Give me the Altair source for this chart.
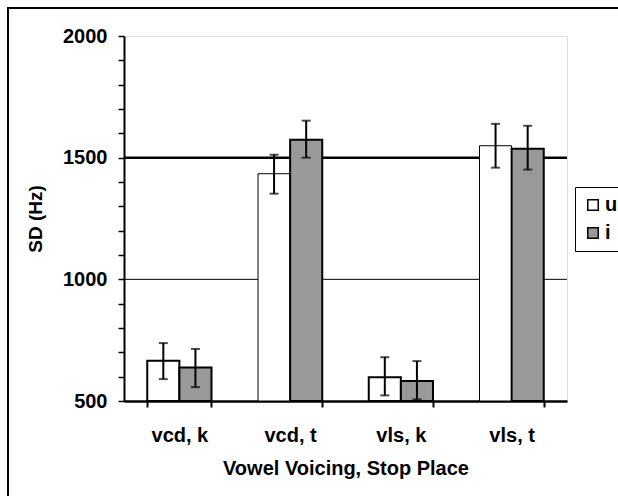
import altair as alt
import pandas as pd

categories = ["vcd, k", "vcd, t", "vls, k", "vls, t"]
vowels = ["u", "i"]
u_mean = [665, 1434, 598, 1549]
u_lo = [590, 1352, 523, 1459]
u_hi = [738, 1512, 680, 1639]
i_mean = [638, 1574, 582, 1537]
i_lo = [557, 1500, 507, 1451]
i_hi = [714, 1652, 664, 1631]
y_ticks = list(range(500, 2001, 100))
grid_thin = [1000]
grid_thick = [1500]
baseline = 500

rows = []
for k, c in enumerate(categories):
    rows.append({"cat": c, "vowel": "u", "mean": u_mean[k], "lo": u_lo[k], "hi": u_hi[k]})
    rows.append({"cat": c, "vowel": "i", "mean": i_mean[k], "lo": i_lo[k], "hi": i_hi[k]})
df = pd.DataFrame(rows)

FONT = "Liberation Sans"

xaxis = alt.Axis(title="Vowel Voicing, Stop Place", labelAngle=0,
                 tickBand="extent", tickSize=6, tickWidth=2, tickColor="black",
                 domainColor="black", domainWidth=2.5,
                 labelFont=FONT, labelFontSize=20, labelFontWeight="bold",
                 labelColor="black", labelPadding=18,
                 titleFont=FONT, titleFontSize=20, titleFontWeight="bold",
                 titleColor="black", titlePadding=13)
yaxis = alt.Axis(title="SD (Hz)", values=y_ticks, format="d",
                 labelExpr="datum.value % 500 == 0 ? datum.label : ''",
                 labelOverlap=False,
                 grid=False, tickSize=6, tickWidth=1.5, tickColor="black",
                 domainColor="black", domainWidth=2,
                 labelFont=FONT, labelFontSize=20, labelFontWeight="bold",
                 labelColor="black", labelPadding=11,
                 titleFont=FONT, titleFontSize=19, titleFontWeight="bold",
                 titleColor="black", titlePadding=17)
xscale = alt.Scale(paddingInner=0.42, paddingOuter=0.21)
xoff = alt.XOffset("vowel:N", sort=vowels)
yscale = alt.Scale(domain=[500, 2000], nice=False, zero=False)


def xe():
    return alt.X("cat:N", sort=categories, scale=xscale, axis=xaxis)


def ye(field):
    return alt.Y(field, scale=yscale, axis=yaxis)


bars = alt.Chart(df).mark_bar(stroke="black").encode(
    x=xe(),
    xOffset=xoff,
    y=ye("mean:Q"),
    y2=alt.datum(baseline),
    strokeWidth=alt.condition("datum.vowel == 'u' && datum.mean > 1000",
                              alt.value(1), alt.value(2)),
    fill=alt.Fill("vowel:N", sort=vowels,
                  scale=alt.Scale(domain=vowels, range=["white", "#999999"]),
                  legend=alt.Legend(title=None, orient="none", legendX=451, legendY=151,
                                    symbolType="square", symbolSize=110,
                                    symbolStrokeColor="black", symbolStrokeWidth=1.5,
                                    labelFont=FONT, labelFontSize=20, labelFontWeight="bold",
                                    labelColor="black", strokeColor="black",
                                    padding=8, rowPadding=8, labelOffset=2,
                                    labelLimit=200)),
)

thin = alt.Chart(pd.DataFrame({"v": grid_thin})).mark_rule(color="black", strokeWidth=1).encode(
    y=ye("v:Q"))
thick = alt.Chart(pd.DataFrame({"v": grid_thick})).mark_rule(color="black", strokeWidth=2.5).encode(
    y=ye("v:Q"))

err = alt.Chart(df).mark_rule(color="black", strokeWidth=2).encode(
    x=xe(), xOffset=xoff, y=ye("lo:Q"), y2="hi:Q")
cap_lo = alt.Chart(df).mark_tick(color="black", thickness=2, size=9, orient="horizontal").encode(
    x=xe(), xOffset=xoff, y=ye("lo:Q"))
cap_hi = alt.Chart(df).mark_tick(color="black", thickness=2, size=9, orient="horizontal").encode(
    x=xe(), xOffset=xoff, y=ye("hi:Q"))

frame = alt.Chart(pd.DataFrame({"f": [0]})).mark_rect(
    fill=None, stroke="black", strokeWidth=2).encode(
    x=alt.value(-116), x2=alt.value(560), y=alt.value(-28), y2=alt.value(520))

chart = alt.layer(thin, thick, bars, err, cap_lo, cap_hi, frame).properties(
    width=443, height=365,
    autosize=alt.AutoSizeParams(type="none"),
    padding={"left": 124, "top": 36, "right": 51, "bottom": 95},
).configure_view(stroke="#808080", strokeWidth=2).configure(background="white")

chart.save("out.html", embed_options={"renderer": "svg", "actions": False})
